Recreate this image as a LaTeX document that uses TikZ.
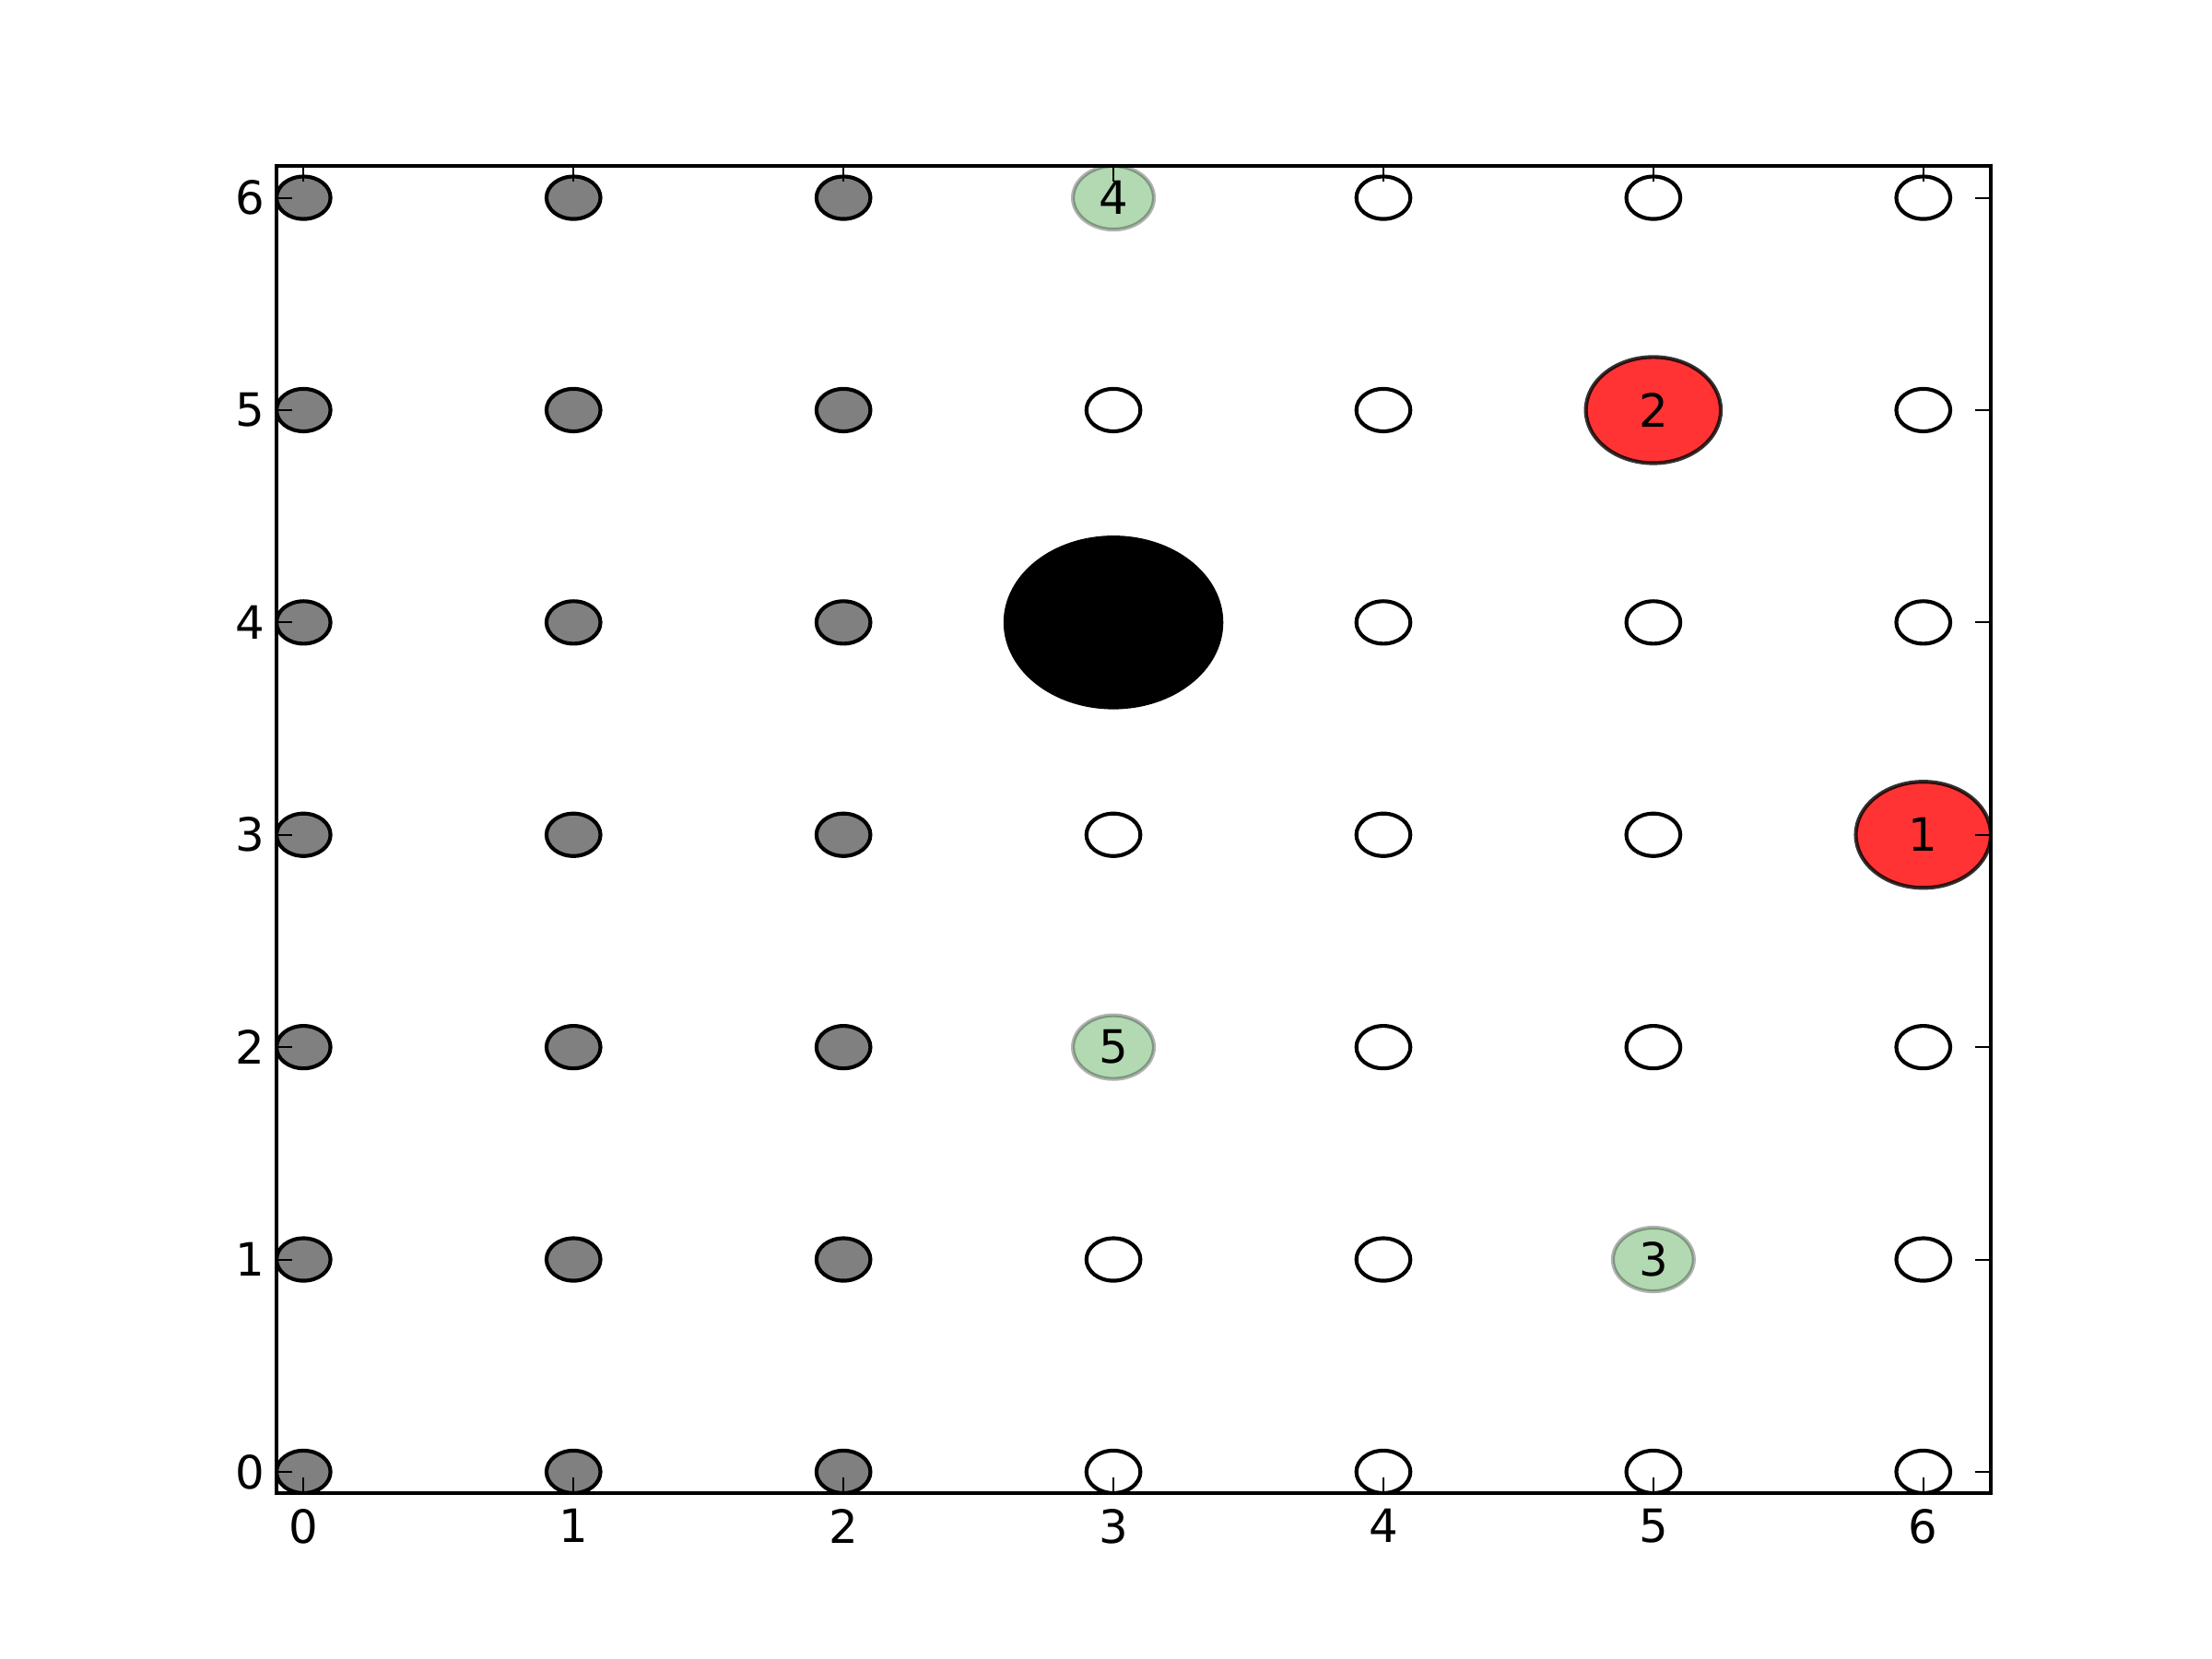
\documentclass[tikz,border=0pt]{standalone}
\usepackage{fontspec}
\setmainfont{DejaVu Sans}
\usetikzlibrary{shapes.geometric}

\tikzset{
    site/.style={ellipse, draw=black, line width=1pt, inner sep=0pt,
        minimum width=0.496cm, minimum height=0.390cm},
    pick/.style={ellipse, line width=1pt, inner sep=0pt,
        fill=green!50!black, draw=black, fill opacity=0.3, draw opacity=0.3,
        text opacity=1, minimum width=0.744cm, minimum height=0.585cm,
        font=\fontsize{12}{14}\selectfont},
    hit/.style={ellipse, line width=1pt, inner sep=0pt,
        fill=red, draw=black, fill opacity=0.8, draw opacity=0.8,
        text opacity=1, minimum width=1.24cm, minimum height=0.975cm,
        font=\fontsize{12}{14}\selectfont},
    ticklabel/.style={inner sep=0pt, font=\fontsize{12}{14}\selectfont},
}

\begin{document}
\begin{tikzpicture}[
    x=2.48cm,
    y=1.9507cm,
]

% Figure of 8in x 6in
\useasboundingbox (-1.1243,-0.88125) rectangle (7.0694,6.93125);

\begin{scope}

% Clip to the axes
\clip (-0.1,-0.1) rectangle (6.25,6.15);

% Occupied sites
\foreach \i in {0,1,2}
    \foreach \j in {0,...,6}
        \node[site, fill=gray] (s-\i-\j) at (\i,\j) {};

% Free sites
\foreach \i/\j in {3/0,3/1,3/3,3/5,
                   4/0,4/1,4/2,4/3,4/4,4/5,4/6,
                   5/0,5/2,5/3,5/4,5/6,
                   6/0,6/1,6/2,6/4,6/5,6/6}
    \node[site, fill=white] (s-\i-\j) at (\i,\j) {};

% Current position
\node[ellipse, fill=black, draw=black, line width=1pt, inner sep=0pt,
    minimum width=1.984cm, minimum height=1.561cm] (s-3-4) at (3,4) {};

% Ranked moves
\node[hit] (s-6-3) at (6,3) {1};
\node[hit] (s-5-5) at (5,5) {2};
\node[pick] (s-5-1) at (5,1) {3};
\node[pick] (s-3-6) at (3,6) {4};
\node[pick] (s-3-2) at (3,2) {5};

\end{scope}

% Ticks, inside on all four sides
\foreach \i in {0,...,6} {
    \draw[line width=0.5pt] (\i,-0.1) -- ++(0,4pt);
    \draw[line width=0.5pt] (\i,6.15) -- ++(0,-4pt);
    \draw[line width=0.5pt] (-0.1,\i) -- ++(4pt,0);
    \draw[line width=0.5pt] (6.25,\i) -- ++(-4pt,0);
    \node[ticklabel, anchor=north] (xl-\i) at ([yshift=-4pt]\i,-0.1) {\i};
    \node[ticklabel, anchor=east] (yl-\i) at ([xshift=-3pt]-0.1,\i) {\i};
}

% Axes frame
\draw[line width=1pt] (-0.1,-0.1) rectangle (6.25,6.15);

\end{tikzpicture}
\end{document}
